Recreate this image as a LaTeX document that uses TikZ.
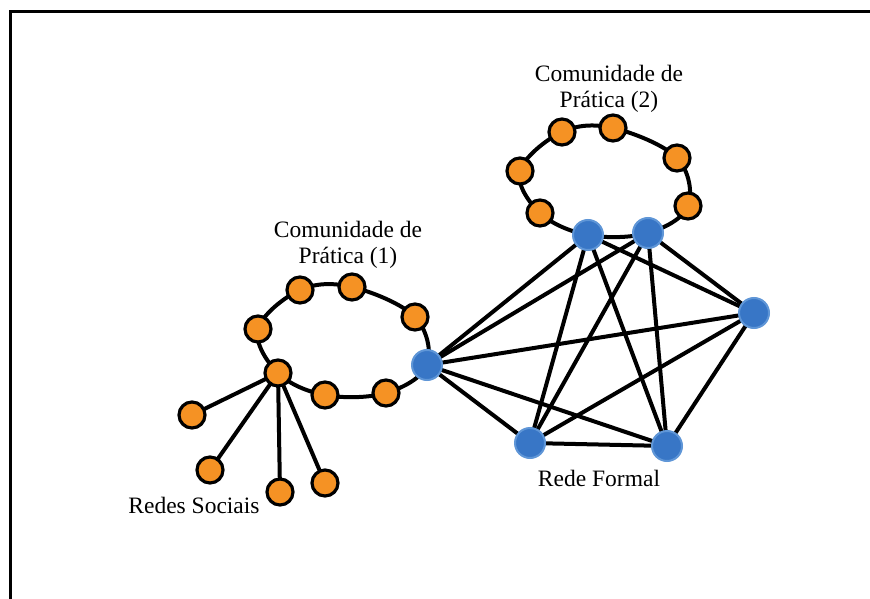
\documentclass[tikz,border=0pt]{standalone}
\usepackage{fontspec}
\setmainfont{Liberation Serif}
\definecolor{orangefill}{RGB}{245,146,36}
\definecolor{bluefill}{RGB}{56,118,198}
\definecolor{blueedge}{RGB}{95,150,215}
\tikzset{
  onode/.style={circle, fill=orangefill, draw=black, line width=3.2pt, minimum size=26pt, inner sep=0pt},
  bnode/.style={circle, fill=bluefill, draw=blueedge, line width=2pt, minimum size=30pt, inner sep=0pt},
  link/.style={line width=4pt, black},
  ring/.style={line width=4pt, black, tension=0.6},
  lbl/.style={font=\fontsize{23.5}{26}\selectfont, inner sep=0pt, align=center}
}
\begin{document}
\begin{tikzpicture}[x=1pt, y=-1pt]
\useasboundingbox (0,0) rectangle (870,599);
\fill[white] (0,0) rectangle (870,599);
\draw[line width=3pt] (10,599) -- (10,12) -- (870,12);

% coordinates of nodes
\coordinate (a1) at (258,329);
\coordinate (a2) at (300,290);
\coordinate (a3) at (352,287);
\coordinate (a4) at (415,317);
\coordinate (b0) at (427,365);
\coordinate (a5) at (386,393);
\coordinate (a6) at (325,395);
\coordinate (a7) at (278,373);

\coordinate (c1) at (520,171);
\coordinate (c2) at (562,132);
\coordinate (c3) at (613,128);
\coordinate (c4) at (677,158);
\coordinate (c5) at (688,206);
\coordinate (d2) at (648,233);
\coordinate (d1) at (588,235);
\coordinate (c6) at (540,213);

\coordinate (e) at (754,313);
\coordinate (f) at (530,443);
\coordinate (g) at (667,446);

\coordinate (r1) at (192,415);
\coordinate (r2) at (210,470);
\coordinate (r3) at (280,492);
\coordinate (r4) at (325,483);

% rings
\draw[ring] plot[smooth cycle] coordinates {(a1) (a2) (a3) (a4) (b0) (a5) (a6) (a7)};
\draw[ring] plot[smooth cycle] coordinates {(c1) (c2) (c3) (c4) (c5) (d2) (d1) (c6)};

% formal network
\foreach \u/\v in {b0/d1, b0/d2, b0/e, b0/f, b0/g, d1/f, d1/g, d1/e, d2/f, d2/g, d2/e, e/f, e/g, f/g}
  \draw[link] (\u) -- (\v);

% social network
\foreach \v in {r1, r2, r3, r4}
  \draw[link] (a7) -- (\v);

% nodes
\foreach \n in {a1,a2,a3,a4,a5,a6,a7,c1,c2,c3,c4,c5,c6,r1,r2,r3,r4}
  \node[onode] (n\n) at (\n) {};
\foreach \n in {b0,d1,d2,e,f,g}
  \node[bnode] (n\n) at (\n) {};

% labels
\node[lbl, anchor=base] (l1a) at (348,237) {Comunidade de};
\node[lbl, anchor=base] (l1b) at (348,263) {Prática (1)};
\node[lbl, anchor=base] (l2a) at (609,82) {Comunidade de};
\node[lbl, anchor=base] (l2b) at (609,108) {Prática (2)};
\node[lbl, anchor=base] (lrs) at (194,513) {Redes Sociais};
\node[lbl, anchor=base] (lrf) at (599,486) {Rede Formal};
\end{tikzpicture}
\end{document}
